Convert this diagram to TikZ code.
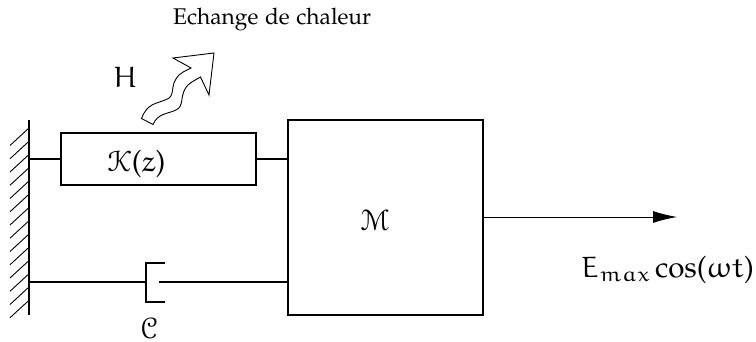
\documentclass[tikz,border=0pt]{standalone}
\usetikzlibrary{arrows.meta}
\font\eurb=eurm10 at 29.5pt
\font\eurs=eurm7 at 20.5pt
\font\euss=eusm10 at 29.5pt
\tikzset{
  lbl/.style={inner sep=0pt,font=\fontencoding{OT1}\fontfamily{pplx}\fontsize{29.5}{34}\selectfont},
  boxk/.style={draw,line width=1.7pt,minimum width=195pt,minimum height=52pt,inner sep=0pt},
  boxm/.style={draw,line width=1.7pt,minimum width=195pt,minimum height=195pt,inner sep=0pt},
  thick1/.style={line width=1.7pt},
}
\begin{document}
\begin{tikzpicture}[x=1pt,y=-1pt]
\useasboundingbox (0,0) rectangle (756,342);
% wall
\coordinate (wt) at (29,120);
\coordinate (wb) at (29,315);
\coordinate (wk) at (29,159);
\coordinate (wc) at (29,282);
\draw[thick1] (wt) -- (wb);
\foreach \i in {0,...,13}{\draw[line width=0.9pt] (29,128+13.25*\i) -- (10,145.5+13.25*\i);}
% boxes
\node[boxk] (k) at (158.5,159) {};
\node[boxm] (m) at (385.5,217.5) {};
\node[lbl,anchor=base] (kl) at (136.5,172) {{\euss K}({\eurb z})};
\node[lbl,anchor=base] (ml) at (375,231) {{\euss M}};
\draw[thick1] (wk) -- (k.west);
\draw[thick1] (k.east) -- (m.west |- k.east);
% damper
\coordinate (d1) at (146,282);
\coordinate (d2) at (159,282);
\draw[thick1] (wc) -- (d1);
\draw[thick1] (165,263) -- (146,263) -- (146,302) -- (165,302);
\draw[thick1] (d2) -- (m.west |- d2);
\node[lbl,anchor=base] (cl) at (149,338) {{\euss C}};
% force
\coordinate (fe) at (677,217);
\draw[line width=0.9pt,-{Latex[length=24pt,width=12pt]}] (m.east |- fe) -- (fe);
\node[lbl,anchor=base west] (fl) at (581,277) {{\eurb E}\raisebox{-4.5pt}{\eurs max}\,cos({\eurb\char"21 t})};
% heat
\draw[line width=0.9pt,line join=miter] (141.5,118.5)
  .. controls (147,104) and (155,104) .. (165,100)
  .. controls (176,97) and (170,87) .. (176,79)
  .. controls (180,72) and (186,71) .. (191,68)
  -- (173,58) -- (214,53) -- (209,95) -- (200.5,77)
  .. controls (194,81) and (188,83) .. (185,89)
  .. controls (180,98) and (184,106) .. (176,110)
  .. controls (168,114) and (158,113) .. (153,124.5)
  -- cycle;
\node[lbl,anchor=base] (hl) at (125,88) {{\eurb H}};
\node[lbl,anchor=base west,font=\fontencoding{OT1}\fontfamily{pplx}\fontsize{22.7}{26}\selectfont] (el) at (173,25) {Echange de chaleur};
\end{tikzpicture}
\end{document}
